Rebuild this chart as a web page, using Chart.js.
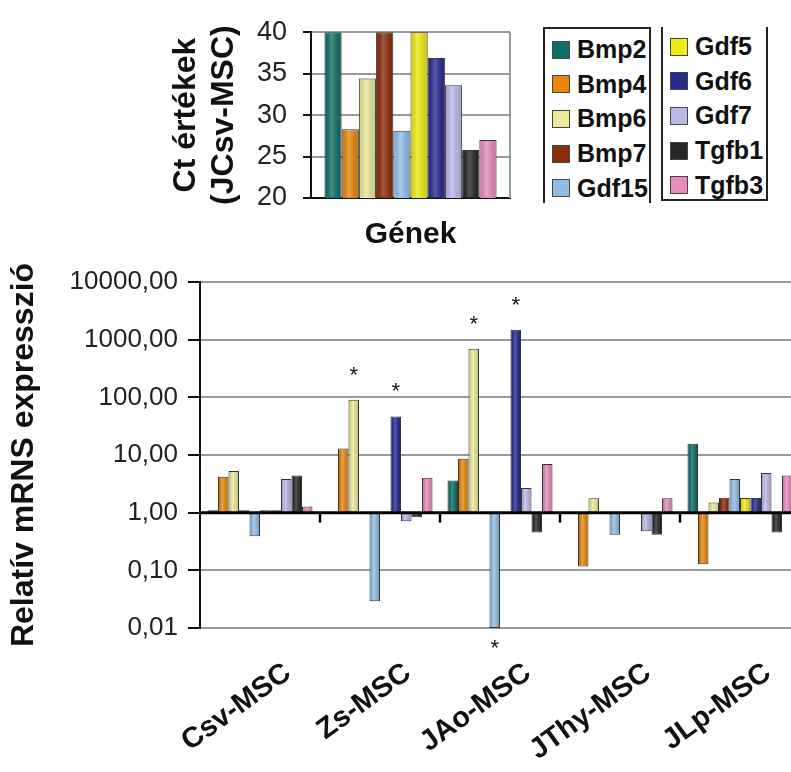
<!DOCTYPE html>
<html>
<head>
<meta charset="utf-8">
<script src="https://cdn.jsdelivr.net/npm/chart.js@4.4.1/dist/chart.umd.min.js"></script>
<style>
  html, body { margin: 0; padding: 0; background: #fff; width: 791px; height: 772px; overflow: hidden; }
  body { position: relative; font-family: Arial, "Liberation Sans", sans-serif; }
  #ctBox { position: absolute; left: 150px; top: 0; width: 365px; height: 258px; }
  #relBox { position: absolute; left: 0; top: 255px; width: 820px; height: 517px; }
  .legBox { position: absolute; box-sizing: border-box; border: 2px solid #222; }
  .legRow { position: absolute; left: 7px; height: 35px; display: flex; align-items: center;
            font-weight: bold; font-size: 25px; color: #111; white-space: nowrap; }
  .legRow span.sw { display: inline-block; width: 16px; height: 16px; border: 1px solid #444; margin-right: 7px; }
</style>
</head>
<body>
<div id="ctBox"><canvas id="ctChart"></canvas></div>
<div id="legLeft" class="legBox" style="left:543px; top:27px; width:108px; height:176px; border-bottom:none;"></div>
<div id="legRight" class="legBox" style="left:661px; top:27px; width:107px; height:174px; border-top:none;"></div>
<div id="relBox"><canvas id="relChart"></canvas></div>

<script>
// genes (series) and their colours
const geneNames = ['Bmp2', 'Bmp4', 'Bmp6', 'Bmp7', 'Gdf15', 'Gdf5', 'Gdf6', 'Gdf7', 'Tgfb1', 'Tgfb3'];
const geneColors = ['#0e6e68', '#e8870c', '#ecea9a', '#8a2c0a', '#8fbfe9', '#f0ec12', '#272b8e', '#babaea', '#262626', '#e68cbc'];

// top chart: Ct values in JCsv-MSC
const ctValues = [40, 28.3, 34.4, 40, 28.1, 40, 36.9, 33.6, 25.8, 27.0];
const ctTicks = [20, 25, 30, 35, 40];

// bottom chart: relative expression per cell line
const groups = ['Csv-MSC', 'Zs-MSC', 'JAo-MSC', 'JThy-MSC', 'JLp-MSC'];
const bmp2 = [1.1, null, 3.6, null, 15.7];
const bmp4 = [4.2, 12.9, 8.6, 0.117, 0.127];
const bmp6 = [5.3, 91, 695, 1.77, 1.5];
const bmp7 = [1.1, null, null, null, 1.82];
const gdf15 = [0.39, 0.029, 0.01, 0.416, 3.84];
const gdf5 = [1.1, null, null, null, 1.8];
const gdf6 = [1.1, 46.7, 1480, null, 1.8];
const gdf7 = [3.84, 0.71, 2.68, 0.475, 4.88];
const tgfb1 = [4.4, 0.83, 0.455, 0.416, 0.455];
const tgfb3 = [1.28, 4.04, 6.98, 1.77, 4.43];
const relSeries = [bmp2, bmp4, bmp6, bmp7, gdf15, gdf5, gdf6, gdf7, tgfb1, tgfb3];
const relTicks = [0.01, 0.1, 1, 10, 100, 1000, 10000];

// significant differences marked with *
const starMarks = [['Zs-MSC', 'Bmp6'], ['Zs-MSC', 'Gdf6'], ['JAo-MSC', 'Bmp6'], ['JAo-MSC', 'Gdf6'], ['JAo-MSC', 'Gdf15']];

Chart.defaults.font.family = 'Arial, "Liberation Sans", sans-serif';
Chart.defaults.color = '#111';
Chart.defaults.animation = false;

// legend in two boxed columns
geneNames.forEach((name, i) => {
    const box = document.getElementById(i < 5 ? 'legLeft' : 'legRight');
    const row = document.createElement('div');
    row.className = 'legRow';
    row.style.top = ((i % 5) * 34.7 + (i < 5 ? 3 : 2)) + 'px';
    row.innerHTML = '<span class="sw" style="background:' + geneColors[i] + '"></span>' + name;
    box.appendChild(row);
});

// soft horizontal shading over every bar, like the old spreadsheet look
function shadeBars(chart) {
    const ctx = chart.ctx;
    const a = chart.chartArea;
    ctx.save();
    chart.data.datasets.forEach((ds, di) => {
        chart.getDatasetMeta(di).data.forEach((el, i) => {
            if (ds.data[i] == null) return;
            const p = el.getProps(['x', 'y', 'base', 'width'], true);
            const left = p.x - p.width / 2 + 1;
            const top = Math.max(Math.min(p.y, p.base), a.top) + 1;
            const bottom = Math.min(Math.max(p.y, p.base), a.bottom) - 1;
            const h = bottom - top;
            if (h <= 0) return;
            const g = ctx.createLinearGradient(left, 0, left + p.width - 2, 0);
            g.addColorStop(0, 'rgba(0,0,0,0.10)');
            g.addColorStop(0.4, 'rgba(255,255,255,0.22)');
            g.addColorStop(1, 'rgba(0,0,0,0.14)');
            ctx.fillStyle = g;
            ctx.fillRect(left, top, p.width - 2, h);
        });
    });
    ctx.restore();
}

const ctFrame = {
    id: 'ctFrame',
    afterDatasetsDraw(chart) { shadeBars(chart); },
    afterDraw(chart) {
        const a = chart.chartArea;
        const ctx = chart.ctx;
        ctx.save();
        ctx.strokeStyle = '#999';
        ctx.lineWidth = 2;
        ctx.beginPath();
        ctx.moveTo(a.right, a.top);
        ctx.lineTo(a.right, a.bottom);
        ctx.stroke();
        ctx.restore();
    }
};

new Chart(document.getElementById('ctChart'), {
    type: 'bar',
    data: {
        labels: [''],
        datasets: geneNames.map((name, i) => ({
            label: name,
            data: [ctValues[i]],
            backgroundColor: geneColors[i],
            borderColor: '#333',
            borderWidth: 1,
            borderSkipped: false,
            categoryPercentage: 0.865,
            barPercentage: 1
        }))
    },
    options: {
        responsive: true,
        maintainAspectRatio: false,
        layout: { padding: { top: 26, right: 5, bottom: 0, left: 0 } },
        plugins: { legend: { display: false }, tooltip: { enabled: false } },
        scales: {
            x: {
                ticks: { display: false },
                grid: { display: false },
                border: { color: '#111', width: 2 },
                title: { display: true, text: 'Gének', font: { size: 30, weight: 'bold' }, padding: { top: 0, bottom: 5 } },
                afterFit(scale) { scale.height = 60; }
            },
            y: {
                min: 20, max: 40,
                afterBuildTicks(scale) { scale.ticks = ctTicks.map(v => ({ value: v })); },
                ticks: { font: { size: 27 }, color: '#222', padding: 16 },
                grid: { color: '#999', lineWidth: 2, tickColor: '#111', tickLength: 8, tickWidth: 2 },
                border: { color: '#111', width: 2 },
                title: {
                    display: true, text: ['Ct értékek', '(JCsv-MSC)'],
                    font: { size: 32, weight: 'bold', lineHeight: 1.16 }, padding: { top: 18, bottom: 0 }
                },
                afterFit(scale) { scale.width = 161; }
            }
        }
    },
    plugins: [ctFrame]
});

// axis line at 1 with tick marks between the cell lines, plus the * marks
const relMarks = {
    id: 'relMarks',
    afterDatasetsDraw(chart) {
        shadeBars(chart);
        const ctx = chart.ctx;
        const xs = chart.scales.x;
        const ys = chart.scales.y;
        const a = chart.chartArea;
        const y1 = ys.getPixelForValue(1);
        ctx.save();
        ctx.strokeStyle = '#000';
        ctx.lineWidth = 3;
        ctx.beginPath();
        ctx.moveTo(a.left, y1);
        ctx.lineTo(a.right, y1);
        ctx.stroke();
        ctx.lineWidth = 2.5;
        for (let i = 0; i < groups.length - 1; i++) {
            const xb = (xs.getPixelForValue(i) + xs.getPixelForValue(i + 1)) / 2;
            ctx.beginPath();
            ctx.moveTo(xb, y1);
            ctx.lineTo(xb, y1 + 10);
            ctx.stroke();
        }
        ctx.fillStyle = '#111';
        ctx.font = '22px Arial, "Liberation Sans", sans-serif';
        ctx.textAlign = 'center';
        ctx.textBaseline = 'middle';
        starMarks.forEach(([g, gene]) => {
            const di = geneNames.indexOf(gene);
            const gi = groups.indexOf(g);
            const el = chart.getDatasetMeta(di).data[gi];
            const v = relSeries[di][gi];
            if (!el || v == null) return;
            const yv = ys.getPixelForValue(v);
            ctx.fillText('*', el.x, v < 1 ? yv + 21 : yv - 24);
        });
        ctx.restore();
    }
};

new Chart(document.getElementById('relChart'), {
    type: 'bar',
    data: {
        labels: groups,
        datasets: geneNames.map((name, i) => ({
            label: name,
            data: relSeries[i].map(v => (v == null ? null : [1, v])),
            backgroundColor: geneColors[i],
            borderColor: '#333',
            borderWidth: 1,
            borderSkipped: false,
            categoryPercentage: 0.875,
            barPercentage: 1
        }))
    },
    options: {
        responsive: true,
        maintainAspectRatio: false,
        layout: { padding: { top: 27, right: 20, bottom: 0, left: 0 } },
        plugins: { legend: { display: false }, tooltip: { enabled: false } },
        scales: {
            x: {
                ticks: {
                    font: { size: 29, weight: 'bold' }, color: '#111',
                    minRotation: 36, maxRotation: 36, padding: 20, labelOffset: 28
                },
                grid: { display: false },
                border: { display: false },
                afterFit(scale) { scale.height = 144; }
            },
            y: {
                type: 'logarithmic',
                min: 0.01, max: 10000,
                afterBuildTicks(scale) { scale.ticks = relTicks.map(v => ({ value: v })); },
                ticks: {
                    font: { size: 26 }, color: '#222', padding: 10,
                    callback: v => v.toFixed(2).replace('.', ',')
                },
                grid: { color: '#999', lineWidth: 2, tickColor: '#111', tickLength: 12, tickWidth: 2 },
                border: { color: '#111', width: 2 },
                title: {
                    display: true, text: 'Relatív mRNS expresszió',
                    font: { size: 32, weight: 'bold' }, padding: { top: 5, bottom: 0 }
                },
                afterFit(scale) { scale.width = 200; }
            }
        }
    },
    plugins: [relMarks]
});
</script>
</body>
</html>
